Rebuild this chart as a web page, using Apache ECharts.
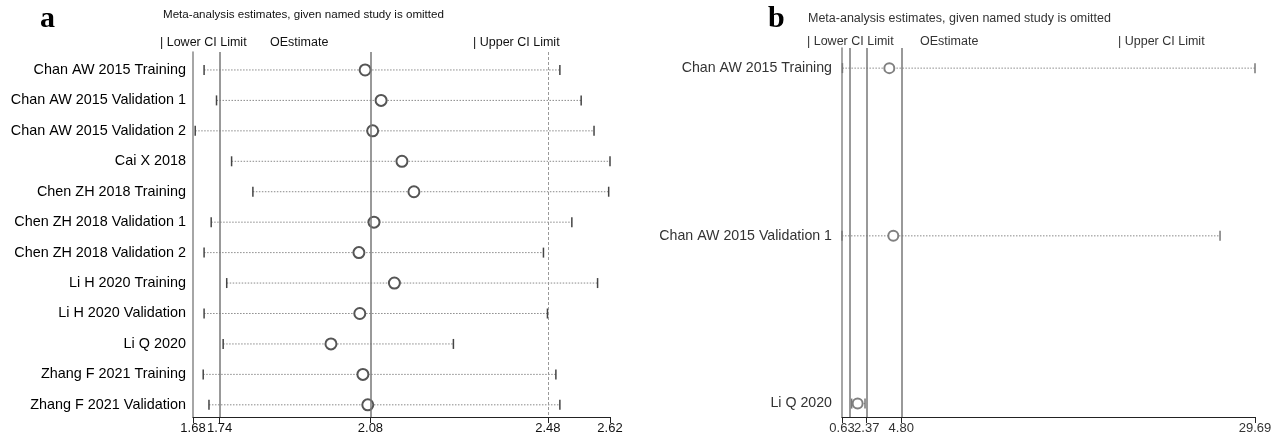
<!DOCTYPE html>
<html>
<head>
<meta charset="utf-8">
<script src="https://cdn.jsdelivr.net/npm/echarts@6/dist/echarts.min.js"></script>
<style>
  html, body { margin: 0; padding: 0; background: #fff; }
  #chart { width: 1276px; height: 439px; }
</style>
</head>
<body>
<div id="chart"></div>
<script>
// panel a: all studies
const studiesA = [
  'Chan AW 2015 Training', 'Chan AW 2015 Validation 1', 'Chan AW 2015 Validation 2',
  'Cai X 2018', 'Chen ZH 2018 Training', 'Chen ZH 2018 Validation 1',
  'Chen ZH 2018 Validation 2', 'Li H 2020 Training', 'Li H 2020 Validation',
  'Li Q 2020', 'Zhang F 2021 Training', 'Zhang F 2021 Validation'
]
const lowerA = [1.705, 1.733, 1.685, 1.767, 1.815, 1.721, 1.705, 1.756, 1.705, 1.748, 1.703, 1.716]
const estA = [2.068, 2.104, 2.085, 2.151, 2.178, 2.088, 2.054, 2.134, 2.056, 1.991, 2.063, 2.074]
const upperA = [2.507, 2.555, 2.584, 2.620, 2.617, 2.534, 2.470, 2.592, 2.479, 2.267, 2.498, 2.507]
const ticksA = [1.68, 1.74, 2.08, 2.48, 2.62]
const refA = [1.74, 2.08, 2.48]

// panel b: three studies
const studiesB = ['Chan AW 2015 Training', 'Chan AW 2015 Validation 1', 'Li Q 2020']
const lowerB = [0.66, 0.63, 1.31]
const estB = [3.96, 4.24, 1.73]
const upperB = [29.69, 27.23, 2.25]
const ticksB = [0.63, 1.16, 2.37, 4.80, 29.69]
const refB = [1.16, 2.37, 4.80]

const FONT = '"Liberation Sans", Arial, sans-serif'

function ciRender(color) {
  return function (params, api) {
    const y = api.value(0)
    const lo = api.coord([api.value(1), y])
    const hi = api.coord([api.value(2), y])
    return {
      type: 'group',
      children: [
        { type: 'line', shape: { x1: lo[0], y1: lo[1], x2: hi[0], y2: hi[1] },
          style: { stroke: '#8a8a8a', lineWidth: 1, lineDash: [1.5, 1.5] } },
        { type: 'line', shape: { x1: lo[0], y1: lo[1] - 5, x2: lo[0], y2: lo[1] + 5 },
          style: { stroke: color, lineWidth: 1.5 } },
        { type: 'line', shape: { x1: hi[0], y1: hi[1] - 5, x2: hi[0], y2: hi[1] + 5 },
          style: { stroke: color, lineWidth: 1.5 } }
      ]
    }
  }
}

function yAxisFor(idx, names, min, max, color, size, margin) {
  return {
    type: 'value', gridIndex: idx, inverse: true, min: min, max: max,
    axisLine: { show: true, lineStyle: { color: '#888', width: 1.5 } },
    axisTick: { show: false },
    splitLine: { show: false },
    axisLabel: {
      customValues: names.map((_, i) => i),
      formatter: v => names[v] || '',
      fontSize: size, color: color, fontFamily: FONT, margin: margin
    }
  }
}

function xAxisFor(idx, ticks, color) {
  return {
    type: 'value', gridIndex: idx, min: ticks[0], max: ticks[ticks.length - 1],
    axisLine: { show: true, onZero: false, lineStyle: { color: '#222', width: 1.2 } },
    axisTick: { show: true, customValues: ticks, length: 6, lineStyle: { color: '#222' } },
    splitLine: { show: false },
    axisLabel: {
      customValues: ticks, formatter: v => v.toFixed(2),
      showMinLabel: true, showMaxLabel: true, hideOverlap: false,
      fontSize: 13, color: color, fontFamily: FONT, margin: 5
    }
  }
}

function refLines(refs, dashedLast) {
  return {
    silent: true, symbol: 'none', label: { show: false },
    lineStyle: { color: '#777', width: 1.5, type: 'solid' },
    data: refs.map((v, i) => ({
      xAxis: v,
      lineStyle: (dashedLast && i === refs.length - 1)
        ? { color: '#999', width: 1, type: [3, 2] } : { color: '#777', width: 1.5, type: 'solid' }
    }))
  }
}

const chart = echarts.init(document.getElementById('chart'), null, { renderer: 'canvas' })
chart.setOption({
  animation: false,
  grid: [
    { left: 193, right: 666, top: 52, bottom: 22 },
    { left: 842, right: 21, top: 48, bottom: 22 }
  ],
  xAxis: [xAxisFor(0, ticksA, '#111'), xAxisFor(1, ticksB, '#333')],
  yAxis: [
    yAxisFor(0, studiesA, -0.59, 11.4, '#000', 14.4, 7),
    yAxisFor(1, studiesB, -0.12, 2.08, '#333', 14.2, 10)
  ],
  graphic: [
    { type: 'text', left: 40, top: 4, style: { text: 'a', font: 'bold 30px "Liberation Serif", serif', fill: '#000' } },
    { type: 'text', left: 163, top: 9, style: { text: 'Meta-analysis estimates, given named study is omitted', font: '11.6px ' + FONT, fill: '#111' } },
    { type: 'text', left: 160, top: 36, style: { text: '| Lower CI Limit', font: '12.5px ' + FONT, fill: '#111' } },
    { type: 'text', left: 270, top: 36, style: { text: 'OEstimate', font: '12.5px ' + FONT, fill: '#111' } },
    { type: 'text', left: 473, top: 36, style: { text: '| Upper CI Limit', font: '12.5px ' + FONT, fill: '#111' } },
    { type: 'text', left: 768, top: 4, style: { text: 'b', font: 'bold 30px "Liberation Serif", serif', fill: '#000' } },
    { type: 'text', left: 808, top: 12, style: { text: 'Meta-analysis estimates, given named study is omitted', font: '12.5px ' + FONT, fill: '#333' } },
    { type: 'text', left: 807, top: 35, style: { text: '| Lower CI Limit', font: '12.5px ' + FONT, fill: '#333' } },
    { type: 'text', left: 920, top: 35, style: { text: 'OEstimate', font: '12.5px ' + FONT, fill: '#333' } },
    { type: 'text', left: 1118, top: 35, style: { text: '| Upper CI Limit', font: '12.5px ' + FONT, fill: '#333' } }
  ],
  series: [
    {
      type: 'custom', xAxisIndex: 0, yAxisIndex: 0, z: 3,
      renderItem: ciRender('#444'),
      encode: { x: [1, 2], y: 0 },
      data: studiesA.map((_, i) => [i, lowerA[i], upperA[i]]),
      markLine: refLines(refA, true)
    },
    {
      type: 'scatter', xAxisIndex: 0, yAxisIndex: 0, z: 4,
      symbol: 'emptyCircle', symbolSize: 11,
      itemStyle: { color: '#555', borderWidth: 1.2, opacity: 1 },
      data: studiesA.map((_, i) => [estA[i], i])
    },
    {
      type: 'custom', xAxisIndex: 1, yAxisIndex: 1, z: 3,
      renderItem: ciRender('#777'),
      encode: { x: [1, 2], y: 0 },
      data: studiesB.map((_, i) => [i, lowerB[i], upperB[i]]),
      markLine: refLines(refB, false)
    },
    {
      type: 'scatter', xAxisIndex: 1, yAxisIndex: 1, z: 4,
      symbol: 'emptyCircle', symbolSize: 10,
      itemStyle: { color: '#808080', borderWidth: 1, opacity: 1 },
      data: studiesB.map((_, i) => [estB[i], i])
    }
  ]
})
</script>
</body>
</html>
